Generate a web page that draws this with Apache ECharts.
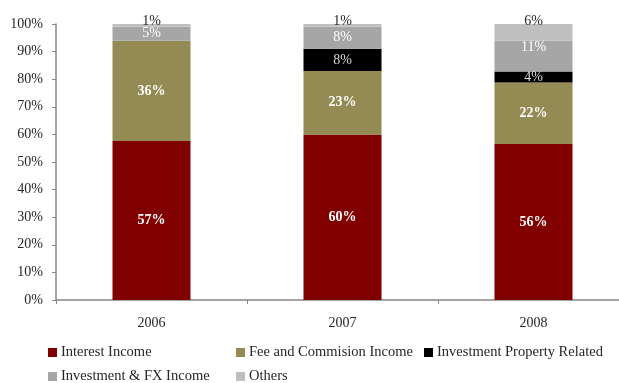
<!DOCTYPE html>
<html>
<head>
<meta charset="utf-8">
<script src="https://cdn.jsdelivr.net/npm/echarts@6/dist/echarts.min.js"></script>
<style>
  html, body { margin: 0; padding: 0; background: #ffffff; }
  #chart { width: 619px; height: 383px; }
</style>
</head>
<body>
<div id="chart"></div>
<script>
// Income composition by year (percent of total income)
const categories = ['2006', '2007', '2008'];
const interestIncome = [57, 60, 56];
const feeCommissionIncome = [36, 23, 22];
const investmentPropertyRelated = [0, 8, 4];
const investmentFxIncome = [5, 8, 11];
const others = [1, 1, 6];
const yTickValues = [0, 10, 20, 30, 40, 50, 60, 70, 80, 90, 100];

const seriesNames = [
  'Interest Income',
  'Fee and Commision Income',
  'Investment Property Related',
  'Investment & FX Income',
  'Others'
];
const seriesValues = [interestIncome, feeCommissionIncome, investmentPropertyRelated, investmentFxIncome, others];
const seriesColors = ['#800000', '#948A54', '#000000', '#A6A6A6', '#BFBFBF'];

// Each column is scaled to its own total so the stack fills 100%
const totals = categories.map((_, i) => seriesValues.reduce((s, arr) => s + arr[i], 0));

const FONT = '"Liberation Serif", "DejaVu Serif", serif';

const labelStyles = [
  { color: '#ffffff', fontWeight: 'bold', position: 'inside' },
  { color: '#ffffff', fontWeight: 'bold', position: 'inside' },
  { color: '#d9d9d9', fontWeight: 'normal', position: 'inside' },
  { color: '#ffffff', fontWeight: 'normal', position: 'inside' },
  { color: '#262626', fontWeight: 'normal', position: 'top', distance: -4 }
];

const series = seriesNames.map((name, s) => ({
  name,
  type: 'bar',
  stack: 'total',
  barWidth: 78,
  itemStyle: { color: seriesColors[s] },
  label: {
    show: true,
    fontFamily: FONT,
    fontSize: 14,
    color: labelStyles[s].color,
    fontWeight: labelStyles[s].fontWeight,
    position: labelStyles[s].position,
    distance: labelStyles[s].distance,
    formatter: p => (p.data.raw ? p.data.raw + '%' : '')
  },
  data: seriesValues[s].map((v, i) => {
    const item = { value: v / totals[i] * 100, raw: v };
    // 2008 investment label sits a little above the segment centre
    if (s === 3 && i === 2) item.label = { offset: [0, -9] };
    return item;
  })
}));

// Legend laid out as a three-column table: one legend block per entry
const legendCells = [[48, 345], [236, 345], [424, 345], [48, 369], [236, 369]];
const legends = seriesNames.map((name, k) => ({
  data: [name],
  left: legendCells[k][0],
  top: legendCells[k][1],
  padding: 0,
  itemWidth: 9,
  itemHeight: 9,
  icon: 'rect',
  selectedMode: false,
  textStyle: { fontFamily: FONT, fontSize: 14.5, color: '#262626', padding: [0, 0, 0, -1] }
}));

const chart = echarts.init(document.getElementById('chart'), null, { renderer: 'canvas' });

chart.setOption({
  animation: false,
  backgroundColor: '#ffffff',
  // plot area runs slightly past the right edge of the canvas
  grid: { left: 56, width: 573, top: 24, bottom: 83, containLabel: false, outerBoundsMode: 'none' },
  legend: legends,
  xAxis: {
    type: 'category',
    data: categories,
    axisLine: { lineStyle: { color: '#868686', width: 1.5 } },
    axisTick: { show: true, alignWithLabel: false, length: 4, lineStyle: { color: '#868686' } },
    axisLabel: { fontFamily: FONT, fontSize: 14, color: '#262626', margin: 16 }
  },
  yAxis: {
    type: 'value',
    min: yTickValues[0],
    max: yTickValues[yTickValues.length - 1],
    interval: yTickValues[1] - yTickValues[0],
    axisLine: { show: true, lineStyle: { color: '#868686', width: 1.5 } },
    axisTick: { show: true, length: 4, lineStyle: { color: '#868686' } },
    splitLine: { show: false },
    axisLabel: { fontFamily: FONT, fontSize: 14, color: '#262626', margin: 13, formatter: '{value}%' }
  },
  series
});
</script>
</body>
</html>
